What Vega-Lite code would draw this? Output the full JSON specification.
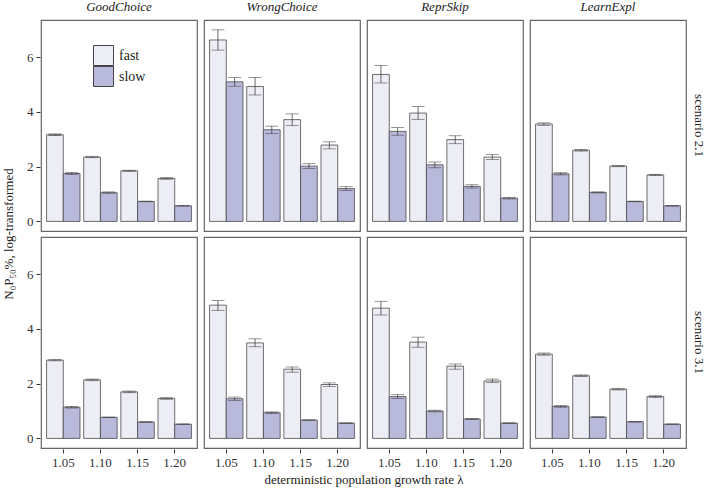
{
  "$schema": "https://vega.github.io/schema/vega-lite/v6.json",
  "padding": {"left": 2, "top": 1, "right": 0, "bottom": 0},
  "background": "white",
  "data": {"values": [
    {"strategy":"GoodChoice","scenario":"scenario 2.1","lambda":"1.05","speed":"fast","v":3.17,"lo":3.14,"hi":3.20},
    {"strategy":"GoodChoice","scenario":"scenario 2.1","lambda":"1.05","speed":"slow","v":1.75,"lo":1.71,"hi":1.79},
    {"strategy":"GoodChoice","scenario":"scenario 2.1","lambda":"1.10","speed":"fast","v":2.35,"lo":2.33,"hi":2.38},
    {"strategy":"GoodChoice","scenario":"scenario 2.1","lambda":"1.10","speed":"slow","v":1.05,"lo":1.03,"hi":1.08},
    {"strategy":"GoodChoice","scenario":"scenario 2.1","lambda":"1.15","speed":"fast","v":1.85,"lo":1.83,"hi":1.87},
    {"strategy":"GoodChoice","scenario":"scenario 2.1","lambda":"1.15","speed":"slow","v":0.73,"lo":0.72,"hi":0.74},
    {"strategy":"GoodChoice","scenario":"scenario 2.1","lambda":"1.20","speed":"fast","v":1.57,"lo":1.54,"hi":1.60},
    {"strategy":"GoodChoice","scenario":"scenario 2.1","lambda":"1.20","speed":"slow","v":0.57,"lo":0.56,"hi":0.58},
    {"strategy":"WrongChoice","scenario":"scenario 2.1","lambda":"1.05","speed":"fast","v":6.63,"lo":6.26,"hi":7.00},
    {"strategy":"WrongChoice","scenario":"scenario 2.1","lambda":"1.05","speed":"slow","v":5.10,"lo":4.94,"hi":5.26},
    {"strategy":"WrongChoice","scenario":"scenario 2.1","lambda":"1.10","speed":"fast","v":4.93,"lo":4.62,"hi":5.26},
    {"strategy":"WrongChoice","scenario":"scenario 2.1","lambda":"1.10","speed":"slow","v":3.35,"lo":3.21,"hi":3.48},
    {"strategy":"WrongChoice","scenario":"scenario 2.1","lambda":"1.15","speed":"fast","v":3.72,"lo":3.50,"hi":3.93},
    {"strategy":"WrongChoice","scenario":"scenario 2.1","lambda":"1.15","speed":"slow","v":2.02,"lo":1.93,"hi":2.11},
    {"strategy":"WrongChoice","scenario":"scenario 2.1","lambda":"1.20","speed":"fast","v":2.79,"lo":2.65,"hi":2.91},
    {"strategy":"WrongChoice","scenario":"scenario 2.1","lambda":"1.20","speed":"slow","v":1.20,"lo":1.13,"hi":1.27},
    {"strategy":"ReprSkip","scenario":"scenario 2.1","lambda":"1.05","speed":"fast","v":5.37,"lo":5.06,"hi":5.70},
    {"strategy":"ReprSkip","scenario":"scenario 2.1","lambda":"1.05","speed":"slow","v":3.29,"lo":3.15,"hi":3.43},
    {"strategy":"ReprSkip","scenario":"scenario 2.1","lambda":"1.10","speed":"fast","v":3.96,"lo":3.73,"hi":4.20},
    {"strategy":"ReprSkip","scenario":"scenario 2.1","lambda":"1.10","speed":"slow","v":2.07,"lo":1.96,"hi":2.17},
    {"strategy":"ReprSkip","scenario":"scenario 2.1","lambda":"1.15","speed":"fast","v":2.99,"lo":2.84,"hi":3.13},
    {"strategy":"ReprSkip","scenario":"scenario 2.1","lambda":"1.15","speed":"slow","v":1.28,"lo":1.22,"hi":1.34},
    {"strategy":"ReprSkip","scenario":"scenario 2.1","lambda":"1.20","speed":"fast","v":2.35,"lo":2.26,"hi":2.44},
    {"strategy":"ReprSkip","scenario":"scenario 2.1","lambda":"1.20","speed":"slow","v":0.85,"lo":0.82,"hi":0.88},
    {"strategy":"LearnExpl","scenario":"scenario 2.1","lambda":"1.05","speed":"fast","v":3.56,"lo":3.51,"hi":3.60},
    {"strategy":"LearnExpl","scenario":"scenario 2.1","lambda":"1.05","speed":"slow","v":1.74,"lo":1.70,"hi":1.78},
    {"strategy":"LearnExpl","scenario":"scenario 2.1","lambda":"1.10","speed":"fast","v":2.60,"lo":2.57,"hi":2.63},
    {"strategy":"LearnExpl","scenario":"scenario 2.1","lambda":"1.10","speed":"slow","v":1.06,"lo":1.04,"hi":1.08},
    {"strategy":"LearnExpl","scenario":"scenario 2.1","lambda":"1.15","speed":"fast","v":2.02,"lo":2.00,"hi":2.04},
    {"strategy":"LearnExpl","scenario":"scenario 2.1","lambda":"1.15","speed":"slow","v":0.73,"lo":0.72,"hi":0.74},
    {"strategy":"LearnExpl","scenario":"scenario 2.1","lambda":"1.20","speed":"fast","v":1.70,"lo":1.68,"hi":1.72},
    {"strategy":"LearnExpl","scenario":"scenario 2.1","lambda":"1.20","speed":"slow","v":0.57,"lo":0.56,"hi":0.58},
    {"strategy":"GoodChoice","scenario":"scenario 3.1","lambda":"1.05","speed":"fast","v":2.86,"lo":2.83,"hi":2.89},
    {"strategy":"GoodChoice","scenario":"scenario 3.1","lambda":"1.05","speed":"slow","v":1.14,"lo":1.11,"hi":1.17},
    {"strategy":"GoodChoice","scenario":"scenario 3.1","lambda":"1.10","speed":"fast","v":2.14,"lo":2.11,"hi":2.17},
    {"strategy":"GoodChoice","scenario":"scenario 3.1","lambda":"1.10","speed":"slow","v":0.77,"lo":0.76,"hi":0.78},
    {"strategy":"GoodChoice","scenario":"scenario 3.1","lambda":"1.15","speed":"fast","v":1.70,"lo":1.67,"hi":1.73},
    {"strategy":"GoodChoice","scenario":"scenario 3.1","lambda":"1.15","speed":"slow","v":0.60,"lo":0.59,"hi":0.61},
    {"strategy":"GoodChoice","scenario":"scenario 3.1","lambda":"1.20","speed":"fast","v":1.46,"lo":1.43,"hi":1.49},
    {"strategy":"GoodChoice","scenario":"scenario 3.1","lambda":"1.20","speed":"slow","v":0.52,"lo":0.51,"hi":0.53},
    {"strategy":"WrongChoice","scenario":"scenario 3.1","lambda":"1.05","speed":"fast","v":4.87,"lo":4.68,"hi":5.04},
    {"strategy":"WrongChoice","scenario":"scenario 3.1","lambda":"1.05","speed":"slow","v":1.45,"lo":1.39,"hi":1.51},
    {"strategy":"WrongChoice","scenario":"scenario 3.1","lambda":"1.10","speed":"fast","v":3.49,"lo":3.35,"hi":3.64},
    {"strategy":"WrongChoice","scenario":"scenario 3.1","lambda":"1.10","speed":"slow","v":0.94,"lo":0.91,"hi":0.97},
    {"strategy":"WrongChoice","scenario":"scenario 3.1","lambda":"1.15","speed":"fast","v":2.53,"lo":2.42,"hi":2.61},
    {"strategy":"WrongChoice","scenario":"scenario 3.1","lambda":"1.15","speed":"slow","v":0.67,"lo":0.66,"hi":0.68},
    {"strategy":"WrongChoice","scenario":"scenario 3.1","lambda":"1.20","speed":"fast","v":1.97,"lo":1.90,"hi":2.03},
    {"strategy":"WrongChoice","scenario":"scenario 3.1","lambda":"1.20","speed":"slow","v":0.56,"lo":0.55,"hi":0.57},
    {"strategy":"ReprSkip","scenario":"scenario 3.1","lambda":"1.05","speed":"fast","v":4.76,"lo":4.51,"hi":5.01},
    {"strategy":"ReprSkip","scenario":"scenario 3.1","lambda":"1.05","speed":"slow","v":1.53,"lo":1.46,"hi":1.60},
    {"strategy":"ReprSkip","scenario":"scenario 3.1","lambda":"1.10","speed":"fast","v":3.52,"lo":3.33,"hi":3.70},
    {"strategy":"ReprSkip","scenario":"scenario 3.1","lambda":"1.10","speed":"slow","v":1.00,"lo":0.97,"hi":1.03},
    {"strategy":"ReprSkip","scenario":"scenario 3.1","lambda":"1.15","speed":"fast","v":2.64,"lo":2.53,"hi":2.72},
    {"strategy":"ReprSkip","scenario":"scenario 3.1","lambda":"1.15","speed":"slow","v":0.71,"lo":0.69,"hi":0.73},
    {"strategy":"ReprSkip","scenario":"scenario 3.1","lambda":"1.20","speed":"fast","v":2.10,"lo":2.04,"hi":2.17},
    {"strategy":"ReprSkip","scenario":"scenario 3.1","lambda":"1.20","speed":"slow","v":0.56,"lo":0.55,"hi":0.57},
    {"strategy":"LearnExpl","scenario":"scenario 3.1","lambda":"1.05","speed":"fast","v":3.08,"lo":3.04,"hi":3.12},
    {"strategy":"LearnExpl","scenario":"scenario 3.1","lambda":"1.05","speed":"slow","v":1.17,"lo":1.14,"hi":1.20},
    {"strategy":"LearnExpl","scenario":"scenario 3.1","lambda":"1.10","speed":"fast","v":2.29,"lo":2.26,"hi":2.32},
    {"strategy":"LearnExpl","scenario":"scenario 3.1","lambda":"1.10","speed":"slow","v":0.78,"lo":0.77,"hi":0.79},
    {"strategy":"LearnExpl","scenario":"scenario 3.1","lambda":"1.15","speed":"fast","v":1.80,"lo":1.77,"hi":1.83},
    {"strategy":"LearnExpl","scenario":"scenario 3.1","lambda":"1.15","speed":"slow","v":0.61,"lo":0.60,"hi":0.62},
    {"strategy":"LearnExpl","scenario":"scenario 3.1","lambda":"1.20","speed":"fast","v":1.53,"lo":1.50,"hi":1.56},
    {"strategy":"LearnExpl","scenario":"scenario 3.1","lambda":"1.20","speed":"slow","v":0.52,"lo":0.51,"hi":0.53}
  ]},
  "facet": {
    "column": {"field": "strategy", "type": "nominal", "sort": ["GoodChoice","WrongChoice","ReprSkip","LearnExpl"],
      "title": "deterministic population growth rate λ",
      "header": {"labelOrient": "top", "titleOrient": "bottom", "labelFont": "Liberation Serif", "labelFontStyle": "italic", "labelFontWeight": "normal", "labelFontSize": 13, "labelColor": "#222", "labelPadding": 5,
        "titleFont": "Liberation Serif", "titleFontSize": 13, "titleFontWeight": "normal", "titleColor": "#222", "titlePadding": -5}},
    "row": {"field": "scenario", "type": "nominal",
      "title": "N₀P₅₀%, log-transformed",
      "header": {"labelOrient": "right", "titleOrient": "left", "labelAngle": 90, "labelFont": "Liberation Serif", "labelFontWeight": "normal", "labelFontSize": 13, "labelColor": "#222", "labelPadding": 5,
        "titleFont": "Liberation Serif", "titleFontSize": 13, "titleFontWeight": "normal", "titleColor": "#222", "titlePadding": 0}}
  },
  "spacing": {"row": 4, "column": 5},
  "spec": {
    "width": 156,
    "height": 211,
    "encoding": {
      "x": {"field": "lambda", "type": "ordinal", "scale": {"paddingInner": 0.1, "paddingOuter": 0.15},
        "axis": {"labelAngle": 0, "title": null}},
      "xOffset": {"field": "speed", "type": "nominal", "scale": {"paddingInner": 0, "paddingOuter": 0}}
    },
    "layer": [
      {
        "mark": {"type": "bar", "stroke": "#4a4a4a", "strokeWidth": 0.8},
        "encoding": {
          "y": {"field": "v", "type": "quantitative", "scale": {"domain": [-0.35, 7.36], "nice": false, "zero": false},
            "axis": {"values": [0, 2, 4, 6], "title": null}},
          "y2": {"datum": 0},
          "fill": {"field": "speed", "type": "nominal", "scale": {"domain": ["fast", "slow"], "range": ["#ededf5", "#b9b9dc"]},
            "legend": {"orient": "none", "legendX": 54, "legendY": 27, "title": null, "symbolType": "M-1.25,-1.25H1.25V1.25H-1.25Z", "symbolSize": 256,
              "symbolStrokeColor": "#444", "symbolStrokeWidth": 1, "rowPadding": -6, "labelFontSize": 14, "labelFont": "Liberation Serif", "labelColor": "#222", "labelOffset": 7}}
        }
      },
      {
        "mark": {"type": "rule", "color": "#444", "strokeWidth": 0.8},
        "encoding": {"y": {"field": "lo", "type": "quantitative"}, "y2": {"field": "hi"}}
      },
      {
        "mark": {"type": "tick", "orient": "horizontal", "color": "#444", "size": 13, "thickness": 0.8},
        "encoding": {"y": {"field": "lo", "type": "quantitative"}}
      },
      {
        "mark": {"type": "tick", "orient": "horizontal", "color": "#444", "size": 13, "thickness": 0.8},
        "encoding": {"y": {"field": "hi", "type": "quantitative"}}
      }
    ]
  },
  "config": {
    "font": "Liberation Serif",
    "view": {"stroke": "#666", "strokeWidth": 1.2},
    "axis": {"domain": false, "grid": false, "labelFont": "Liberation Serif", "labelFontSize": 13, "labelColor": "#333", "tickColor": "#333", "tickSize": 4,
      "titleFont": "Liberation Serif", "titleFontSize": 13, "titleFontWeight": "normal", "titleColor": "#222", "labelPadding": 3}
  }
}
